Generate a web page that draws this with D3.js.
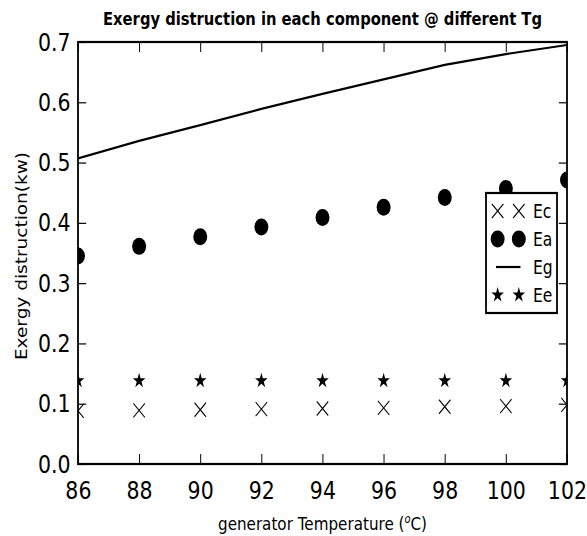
<!DOCTYPE html>
<html>
<head>
<meta charset="utf-8">
<script src="https://cdn.jsdelivr.net/npm/d3@7/dist/d3.min.js"></script>
<style>
  body { margin: 0; background: #fff; }
  text { font-family: "DejaVu Sans", sans-serif; fill: #000; }
</style>
</head>
<body>
<div id="chart"></div>
<script>
// values
var temps = [86, 88, 90, 92, 94, 96, 98, 100, 102];
var ec = [0.088, 0.089, 0.090, 0.091, 0.092, 0.093, 0.095, 0.096, 0.098];
var ea = [0.345, 0.361, 0.377, 0.393, 0.409, 0.426, 0.442, 0.457, 0.471];
var eg = [0.507, 0.536, 0.562, 0.589, 0.614, 0.638, 0.662, 0.680, 0.695];
var ee = [0.138, 0.138, 0.138, 0.138, 0.138, 0.138, 0.138, 0.138, 0.138];
var xTicks = [86, 88, 90, 92, 94, 96, 98, 100, 102];
var yTicks = [0.0, 0.1, 0.2, 0.3, 0.4, 0.5, 0.6, 0.7];
var legendNames = ['Ec', 'Ea', 'Eg', 'Ee'];

// the picture is squeezed sideways, so draw wide and scale x down
var sx = 0.82;
var width = 587, height = 536;
var innerW = width / sx;
var margins = {left: 78 / sx, right: 20 / sx, top: 42, bottom: 72};
var plotW = innerW - margins.left - margins.right;
var plotH = height - margins.top - margins.bottom;

var svg = d3.select('#chart').append('svg')
  .attr('width', width)
  .attr('height', height);

var root = svg.append('g').attr('transform', 'scale(' + sx + ',1)');

var x = d3.scaleLinear().domain([86, 102]).range([0, plotW]);
var y = d3.scaleLinear().domain([0, 0.7]).range([plotH, 0]);

var g = root.append('g')
  .attr('transform', 'translate(' + margins.left + ',' + margins.top + ')');

g.append('clipPath').attr('id', 'plot-clip')
  .append('rect').attr('width', plotW).attr('height', plotH);

var data = g.append('g').attr('clip-path', 'url(#plot-clip)');

// Eg line
data.append('path')
  .datum(temps)
  .attr('d', d3.line().x(function(d) { return x(d); }).y(function(d, i) { return y(eg[i]); }))
  .style('fill', 'none')
  .style('stroke', '#000')
  .style('stroke-width', 2.2);

// Ea dots
data.selectAll('.ea').data(temps)
  .enter().append('circle')
  .attr('class', 'ea')
  .attr('cx', function(d) { return x(d); })
  .attr('cy', function(d, i) { return y(ea[i]); })
  .attr('r', 8.5)
  .style('fill', '#000');

// Ee stars
var star = d3.symbol().type(d3.symbolStar).size(72);
data.selectAll('.ee').data(temps)
  .enter().append('path')
  .attr('class', 'ee')
  .attr('transform', function(d, i) { return 'translate(' + x(d) + ',' + y(ee[i]) + ')'; })
  .attr('d', star)
  .style('fill', '#000');

// Ec crosses
var cross = 'M-7,-7L7,7M-7,7L7,-7';
data.selectAll('.ec').data(temps)
  .enter().append('path')
  .attr('class', 'ec')
  .attr('transform', function(d, i) { return 'translate(' + x(d) + ',' + y(ec[i]) + ')'; })
  .attr('d', cross)
  .style('fill', 'none')
  .style('stroke', '#000')
  .style('stroke-width', 1.2);

// axes, ticks inward on all four sides
function styleAxis(sel) {
  sel.select('.domain').remove();
  sel.selectAll('.tick line').style('stroke', '#000').style('stroke-width', 1.2);
  sel.selectAll('.tick text').style('font-size', '25px');
}

g.append('g')
  .attr('transform', 'translate(0,' + plotH + ')')
  .call(d3.axisBottom(x).tickValues(xTicks).tickSizeInner(-10).tickSizeOuter(0).tickPadding(17).tickFormat(d3.format('d')))
  .call(styleAxis);

g.append('g')
  .call(d3.axisTop(x).tickValues(xTicks).tickSizeInner(-10).tickSizeOuter(0).tickFormat(''))
  .call(styleAxis);

g.append('g')
  .call(d3.axisLeft(y).tickValues(yTicks).tickSizeInner(-10).tickSizeOuter(0).tickPadding(9).tickFormat(d3.format('.1f')))
  .call(styleAxis);

g.append('g')
  .attr('transform', 'translate(' + plotW + ',0)')
  .call(d3.axisRight(y).tickValues(yTicks).tickSizeInner(-10).tickSizeOuter(0).tickFormat(''))
  .call(styleAxis);

g.append('rect')
  .attr('width', plotW)
  .attr('height', plotH)
  .style('fill', 'none')
  .style('stroke', '#000')
  .style('stroke-width', 2.2);

// legend
var lg = g.append('g')
  .attr('transform', 'translate(' + (486 / sx - margins.left) + ',' + (193 - margins.top) + ')');

lg.append('rect')
  .attr('width', (557 - 486) / sx)
  .attr('height', 120)
  .style('fill', '#fff')
  .style('stroke', '#000')
  .style('stroke-width', 2.2);

var rows = lg.selectAll('.row').data(legendNames)
  .enter().append('g')
  .attr('class', 'row')
  .attr('transform', function(d, i) { return 'translate(0,' + (18 + i * 28) + ')'; });

var mx = [(496 - 486) / sx + 2, (518 - 486) / sx + 1];

rows.each(function(name) {
  var r = d3.select(this);
  if (name === 'Eg') {
    r.append('line')
      .attr('x1', mx[0] - 2).attr('x2', mx[1] + 2)
      .style('stroke', '#000').style('stroke-width', 2.2);
    return;
  }
  mx.forEach(function(px) {
    if (name === 'Ec') {
      r.append('path').attr('transform', 'translate(' + px + ',0)').attr('d', cross)
        .style('fill', 'none').style('stroke', '#000').style('stroke-width', 1.2);
    } else if (name === 'Ea') {
      r.append('circle').attr('cx', px).attr('r', 8.5).style('fill', '#000');
    } else {
      r.append('path').attr('transform', 'translate(' + px + ',0)').attr('d', star).style('fill', '#000');
    }
  });
});

rows.append('text')
  .attr('x', (533 - 486) / sx)
  .attr('dy', '0.35em')
  .style('font-size', '19px')
  .text(function(d) { return d; });

// title and axis labels
root.append('text')
  .attr('x', margins.left + plotW / 2)
  .attr('y', 25)
  .attr('text-anchor', 'middle')
  .style('font-size', '18px')
  .style('font-weight', 'bold')
  .text('Exergy distruction in each component @ different Tg');

var xl = root.append('text')
  .attr('x', margins.left + plotW / 2)
  .attr('y', 530)
  .attr('text-anchor', 'middle')
  .style('font-size', '18.5px');
xl.append('tspan').text('generator Temperature (');
xl.append('tspan').attr('dy', -7).style('font-size', '12px').style('font-style', 'italic').text('o');
xl.append('tspan').attr('dy', 7).text('C)');

root.append('text')
  .attr('transform', 'translate(' + (27 / sx) + ',' + 256 + ') rotate(-90)')
  .attr('text-anchor', 'middle')
  .style('font-size', '18.5px')
  .text('Exergy distruction(kw)');
</script>
</body>
</html>
